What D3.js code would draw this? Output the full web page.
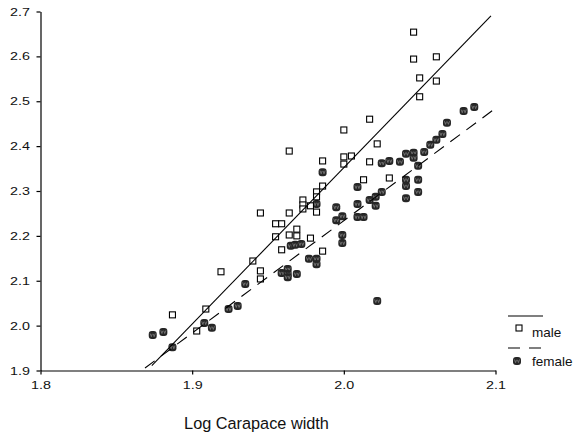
<!DOCTYPE html>
<html>
<head>
<meta charset="utf-8">
<script src="https://cdn.jsdelivr.net/npm/d3@7"></script>
<style>
  body { margin: 0; background: #fff; }
  svg { display: block; font-family: "Liberation Sans", Arial, sans-serif; }
</style>
</head>
<body>
<div id="chart"></div>
<script>
// log carapace width (x) and log body measure (y) for each crab
var maleX = [2.046, 2.046, 2.061, 2.050, 2.061, 2.050, 2.017, 2.000, 2.022, 2.000,
  2.005, 2.000, 2.017, 2.013, 2.030, 1.986, 1.964, 1.986, 1.982, 1.982,
  1.973, 1.973, 1.973, 1.978, 1.982, 1.964, 1.945, 1.955, 1.959, 1.969,
  1.964, 1.969, 1.955, 1.978, 1.986, 1.959, 1.940, 1.945, 1.945, 1.919,
  1.909, 1.887, 1.903];
var maleY = [2.654, 2.594, 2.599, 2.552, 2.545, 2.510, 2.460, 2.436, 2.405, 2.376,
  2.378, 2.360, 2.365, 2.325, 2.329, 2.367, 2.389, 2.311, 2.298, 2.287,
  2.280, 2.269, 2.260, 2.267, 2.253, 2.251, 2.251, 2.227, 2.227, 2.215,
  2.202, 2.200, 2.198, 2.195, 2.166, 2.169, 2.144, 2.122, 2.104, 2.120,
  2.037, 2.024, 1.988];

var femaleX = [1.874, 1.881, 1.887, 1.908, 1.913, 1.924, 1.930, 1.935, 1.959, 1.963,
  1.963, 1.963, 1.969, 1.965, 1.968, 1.972, 1.977, 1.982, 1.982, 1.982,
  1.986, 1.995, 1.995, 1.999, 1.999, 1.999, 2.009, 2.009, 2.009, 2.013,
  2.022, 2.017, 2.021, 2.021, 2.025, 2.025, 2.030, 2.037, 2.041, 2.046,
  2.046, 2.049, 2.041, 2.041, 2.049, 2.049, 2.041, 2.053, 2.057, 2.061,
  2.065, 2.068, 2.079, 2.086];
var femaleY = [1.979, 1.986, 1.952, 2.006, 1.995, 2.037, 2.044, 2.093, 2.117, 2.126,
  2.115, 2.108, 2.115, 2.178, 2.180, 2.182, 2.149, 2.149, 2.137, 2.271,
  2.342, 2.264, 2.235, 2.244, 2.202, 2.184, 2.309, 2.271, 2.242, 2.242,
  2.055, 2.280, 2.287, 2.267, 2.298, 2.362, 2.367, 2.365, 2.383, 2.385,
  2.374, 2.356, 2.325, 2.311, 2.325, 2.298, 2.284, 2.387, 2.403, 2.414,
  2.427, 2.452, 2.478, 2.487];

// fitted lines, start and end point
var maleFitX = [1.8734, 2.097];
var maleFitY = [1.9107, 2.690];
var femaleFitX = [1.8689, 2.1];
var femaleFitY = [1.9056, 2.4843];

var xTicks = [1.8, 1.9, 2.0, 2.1];
var yTicks = [1.9, 2.0, 2.1, 2.2, 2.3, 2.4, 2.5, 2.6, 2.7];

var width = 575, height = 437;

var svg = d3.select("#chart").append("svg")
  .attr("width", width)
  .attr("height", height);

var x = d3.scaleLinear().domain([1.8, 2.1]).range([40.5, 495.5]);
var y = d3.scaleLinear().domain([1.9, 2.7]).range([370.5, 11.5]);

var stretch = 1.28; // tick labels look wider than plain Arial

// x axis
var xAxis = svg.append("g")
  .attr("transform", "translate(0,370.5)")
  .call(d3.axisBottom(x).tickValues(xTicks).tickFormat(d3.format(".1f"))
    .tickSize(4).tickSizeOuter(0).tickPadding(7));
xAxis.selectAll("text")
  .attr("transform", "scale(" + stretch + ",1)")
  .style("font-size", "11.2px");

// y axis
var yAxis = svg.append("g")
  .attr("transform", "translate(40.5,0)")
  .call(d3.axisLeft(y).tickValues(yTicks).tickFormat(d3.format(".1f"))
    .tickSize(4).tickSizeOuter(0));
yAxis.selectAll("text")
  .attr("x", -10.5 / stretch)
  .attr("transform", "scale(" + stretch + ",1)")
  .style("font-size", "11.2px");

svg.selectAll(".domain, .tick line").attr("stroke", "#000").attr("stroke-width", 1.2);
svg.selectAll(".tick text").attr("fill", "#111");

// axis title
svg.append("text")
  .attr("x", 256.5)
  .attr("y", 429)
  .attr("text-anchor", "middle")
  .style("font-size", "16.3px")
  .attr("fill", "#111")
  .text("Log Carapace width");

// female marker: dark blob with a lighter squiggle
function drawFemale(g) {
  g.append("rect").attr("x", -4).attr("y", -4).attr("width", 8).attr("height", 8)
    .attr("rx", 3).attr("fill", "#262626");
  g.append("path")
    .attr("d", "M-2.6,-1.6 L-1.4,1.6 L-0.5,-1.2 M0.5,-1.2 L1.4,1.6 L2.6,-1.6")
    .attr("fill", "none").attr("stroke", "#8a8a8a").attr("stroke-width", 0.7);
}

function drawMale(g) {
  g.append("rect").attr("x", -3).attr("y", -3).attr("width", 6).attr("height", 6)
    .attr("fill", "#fff").attr("stroke", "#000").attr("stroke-width", 1.1);
}

var females = femaleX.map(function (d, i) { return { x: d, y: femaleY[i] }; });
var males = maleX.map(function (d, i) { return { x: d, y: maleY[i] }; });

svg.append("g").selectAll("g")
  .data(females).enter().append("g")
  .attr("transform", function (d) { return "translate(" + x(d.x) + "," + y(d.y) + ")"; })
  .each(function () { drawFemale(d3.select(this)); });

svg.append("g").selectAll("g")
  .data(males).enter().append("g")
  .attr("transform", function (d) { return "translate(" + x(d.x) + "," + y(d.y) + ")"; })
  .each(function () { drawMale(d3.select(this)); });

// fit lines
var line = d3.line().x(function (d) { return x(d[0]); }).y(function (d) { return y(d[1]); });

svg.append("path")
  .attr("d", line(d3.zip(maleFitX, maleFitY)))
  .attr("fill", "none").attr("stroke", "#000").attr("stroke-width", 1.1);

svg.append("path")
  .attr("d", line(d3.zip(femaleFitX, femaleFitY)))
  .attr("fill", "none").attr("stroke", "#000").attr("stroke-width", 1.1)
  .attr("stroke-dasharray", "12,8");

// legend
var legend = svg.append("g");
legend.append("line").attr("x1", 508).attr("x2", 543).attr("y1", 316).attr("y2", 316)
  .attr("stroke", "#000").attr("stroke-width", 1.1);
drawMale(legend.append("g").attr("transform", "translate(519,328)"));
legend.append("text").attr("x", 532).attr("y", 337).style("font-size", "13.5px")
  .attr("fill", "#111").text("male");
legend.append("line").attr("x1", 508).attr("x2", 543).attr("y1", 348).attr("y2", 348)
  .attr("stroke", "#000").attr("stroke-width", 1.1).attr("stroke-dasharray", "12,9");
drawFemale(legend.append("g").attr("transform", "translate(517,361)"));
legend.append("text").attr("x", 532).attr("y", 366).style("font-size", "13.5px")
  .attr("fill", "#111").text("female");
</script>
</body>
</html>
